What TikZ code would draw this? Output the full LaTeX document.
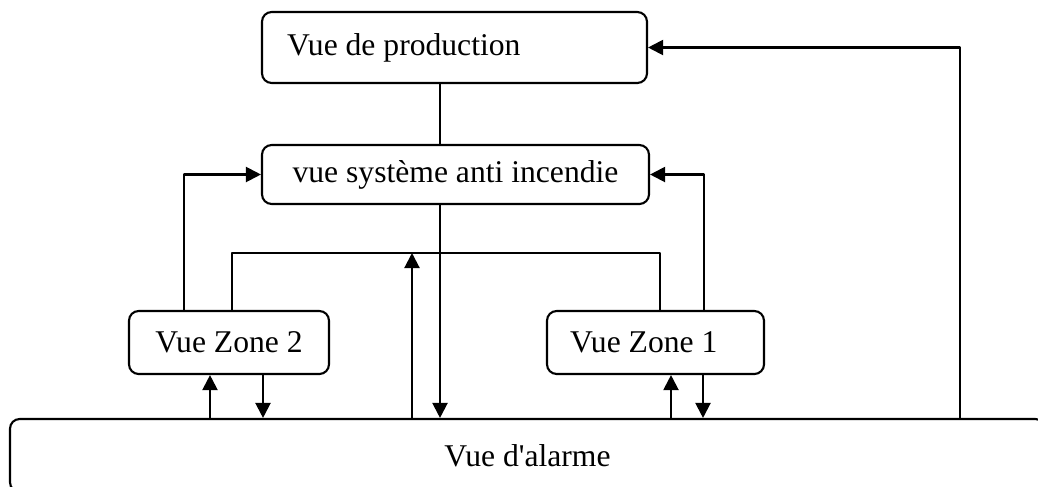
\documentclass[tikz,border=0pt]{standalone}
\usepackage{fontspec}
\setmainfont{Liberation Serif}
\usetikzlibrary{arrows.meta}

\begin{document}
\begin{tikzpicture}[
  line join=round,
  view/.style={
    draw=black,
    rounded corners=5.5pt,
    line width=1.2pt,
    align=center,
    font=\fontsize{18}{21}\selectfont,
    inner sep=0pt
  },
  viewleft/.style={
    view,
    align=flush left
  },
  link/.style={
    line width=1.2pt,
    draw=black
  },
  arrow/.style={
    -{Triangle[length=3mm,width=3mm]},
    line width=1.2pt,
    draw=black
  }
]

\useasboundingbox (0,0) rectangle (20.76,-9.72);

% =========================================================
% Views
% =========================================================

\node[viewleft, minimum width=7.70cm, minimum height=1.42cm, text width=6.70cm] (prod) at (9.09,-0.95)
{Vue de production};

\node[view, minimum width=7.74cm, minimum height=1.18cm] (anti) at (9.11,-3.49)
{vue système anti incendie};

\node[view, minimum width=4.00cm, minimum height=1.26cm] (zone2) at (4.58,-6.85)
{Vue Zone 2};

\node[viewleft, minimum width=4.34cm, minimum height=1.26cm, text width=3.42cm] (zone1) at (13.11,-6.85)
{Vue Zone 1};

\node[view, minimum width=20.70cm, minimum height=1.46cm] (alarm) at (10.55,-9.11)
{Vue d\textquotesingle alarme};

% ---------------- helper coordinates ----------------

\coordinate (mid) at (8.80,0);
\coordinate (back) at (19.20,0);
\coordinate (busL) at (4.64,-5.06);
\coordinate (busR) at (13.20,-5.06);
\coordinate (up) at (8.24,0);
\coordinate (feedL) at (3.68,0);
\coordinate (feedR) at (14.08,0);
\coordinate (z2up) at (4.20,0);
\coordinate (z2down) at (5.26,0);
\coordinate (z1up) at (13.42,0);
\coordinate (z1down) at (14.06,0);

% =========================================================
% Connections
% =========================================================

\draw[link] (prod.south -| mid) -- (anti.north -| mid);
\draw[arrow] (alarm.north -| back) |- (prod.east);

\draw[arrow] (zone2.north -| feedL) |- (anti.west);
\draw[arrow] (zone1.north -| feedR) |- (anti.east);

\draw[link] (zone2.north -| busL) -- (busL) -- (busR) -- (zone1.north -| busR);

\draw[arrow] (alarm.north -| up) -- (busL -| up);
\draw[arrow] (anti.south -| mid) -- (alarm.north -| mid);

% zone exchanges with the alarm view
\draw[arrow] (alarm.north -| z2up) -- (zone2.south -| z2up);
\draw[arrow] (zone2.south -| z2down) -- (alarm.north -| z2down);
\draw[arrow] (alarm.north -| z1up) -- (zone1.south -| z1up);
\draw[arrow] (zone1.south -| z1down) -- (alarm.north -| z1down);

\end{tikzpicture}
\end{document}
